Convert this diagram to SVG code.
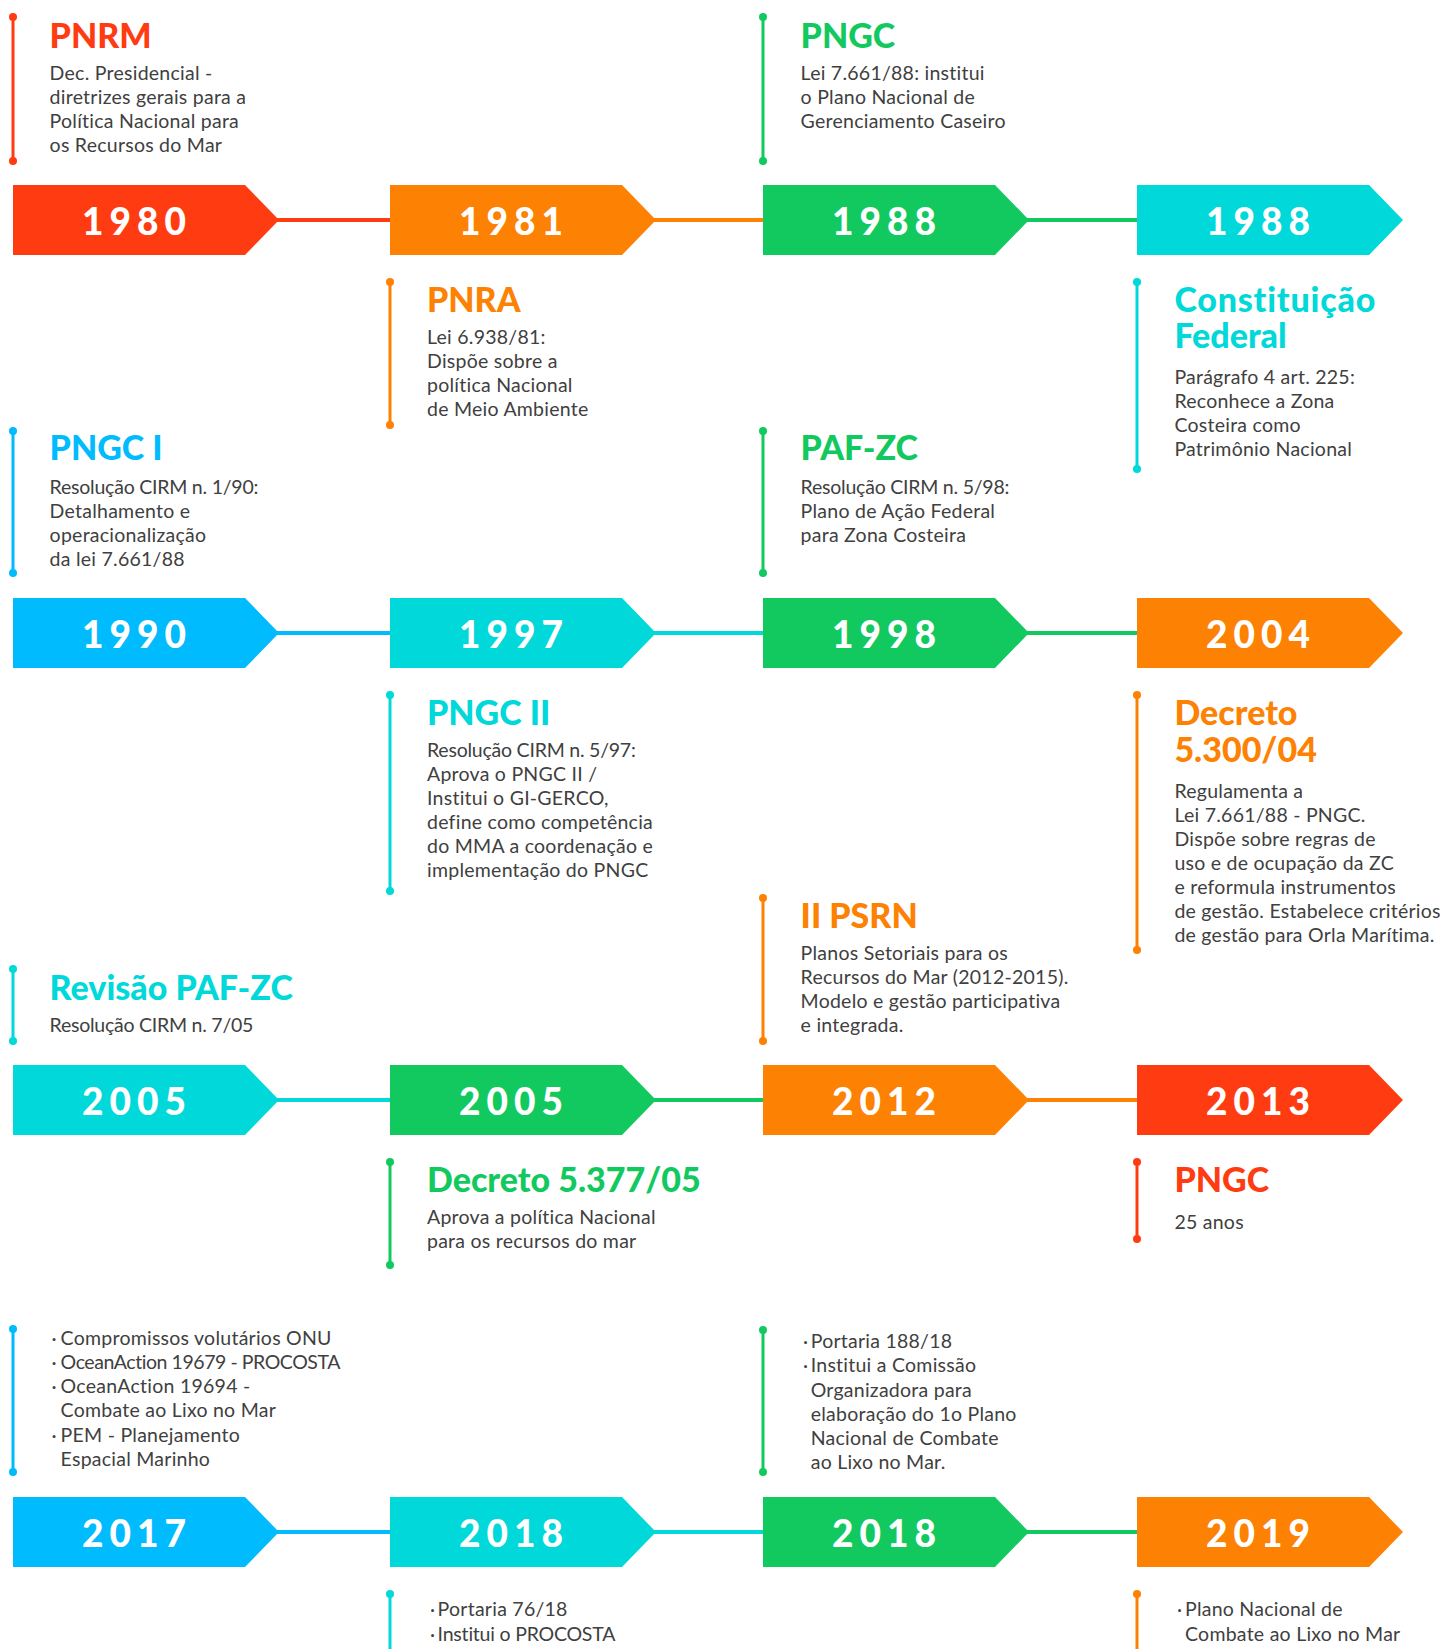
<svg xmlns="http://www.w3.org/2000/svg" width="1442" height="1649" viewBox="0 0 1442 1649">
<style>
.yr{font-family:Lato,'Open Sans',sans-serif;font-weight:900;font-size:37px;fill:#fff;letter-spacing:6px;text-anchor:middle}
.tt{font-family:Lato,'Open Sans',sans-serif;font-weight:900;font-size:34px}
.bd{font-family:Lato,'Open Sans',sans-serif;font-size:19.5px;letter-spacing:0.25px;fill:#404040}
.vl{stroke-width:3;fill:none}
.fr{fill:#ff3c11}.fo{fill:#fd8103}.fg{fill:#12c960}.fc{fill:#00d8d9}.fb{fill:#00bbfd}
.sr{stroke:#ff3c11}.so{stroke:#fd8103}.sg{stroke:#12c960}.sc{stroke:#00d8d9}.sb{stroke:#00bbfd}
.cn{stroke-width:4}
</style>
<rect width="1442" height="1649" fill="#fff"/>
<g id="connectors">
<line class="cn sr" x1="270" y1="220" x2="392" y2="220"/>
<line class="cn so" x1="647" y1="220" x2="765" y2="220"/>
<line class="cn sg" x1="1020" y1="220" x2="1139" y2="220"/>
<line class="cn sb" x1="270" y1="633" x2="392" y2="633"/>
<line class="cn sc" x1="647" y1="633" x2="765" y2="633"/>
<line class="cn sg" x1="1020" y1="633" x2="1139" y2="633"/>
<line class="cn sc" x1="270" y1="1100" x2="392" y2="1100"/>
<line class="cn sg" x1="647" y1="1100" x2="765" y2="1100"/>
<line class="cn so" x1="1020" y1="1100" x2="1139" y2="1100"/>
<line class="cn sb" x1="270" y1="1532" x2="392" y2="1532"/>
<line class="cn sc" x1="647" y1="1532" x2="765" y2="1532"/>
<line class="cn sg" x1="1020" y1="1532" x2="1139" y2="1532"/>
</g>
<g id="y1980"><polygon class="fr" points="13,185 245,185 279,220 245,255 13,255"/><text class="yr" x="137" y="235">1980</text></g>
<g id="y1981"><polygon class="fo" points="390,185 622,185 656,220 622,255 390,255"/><text class="yr" x="514" y="235">1981</text></g>
<g id="y1988a"><polygon class="fg" points="763,185 995,185 1029,220 995,255 763,255"/><text class="yr" x="887" y="235">1988</text></g>
<g id="y1988b"><polygon class="fc" points="1137,185 1369,185 1403,220 1369,255 1137,255"/><text class="yr" x="1261" y="235">1988</text></g>
<g id="y1990"><polygon class="fb" points="13,598 245,598 279,633 245,668 13,668"/><text class="yr" x="137" y="648">1990</text></g>
<g id="y1997"><polygon class="fc" points="390,598 622,598 656,633 622,668 390,668"/><text class="yr" x="514" y="648">1997</text></g>
<g id="y1998"><polygon class="fg" points="763,598 995,598 1029,633 995,668 763,668"/><text class="yr" x="887" y="648">1998</text></g>
<g id="y2004"><polygon class="fo" points="1137,598 1369,598 1403,633 1369,668 1137,668"/><text class="yr" x="1261" y="648">2004</text></g>
<g id="y2005a"><polygon class="fc" points="13,1065 245,1065 279,1100 245,1135 13,1135"/><text class="yr" x="137" y="1115">2005</text></g>
<g id="y2005b"><polygon class="fg" points="390,1065 622,1065 656,1100 622,1135 390,1135"/><text class="yr" x="514" y="1115">2005</text></g>
<g id="y2012"><polygon class="fo" points="763,1065 995,1065 1029,1100 995,1135 763,1135"/><text class="yr" x="887" y="1115">2012</text></g>
<g id="y2013"><polygon class="fr" points="1137,1065 1369,1065 1403,1100 1369,1135 1137,1135"/><text class="yr" x="1261" y="1115">2013</text></g>
<g id="y2017"><polygon class="fb" points="13,1497 245,1497 279,1532 245,1567 13,1567"/><text class="yr" x="137" y="1547">2017</text></g>
<g id="y2018a"><polygon class="fc" points="390,1497 622,1497 656,1532 622,1567 390,1567"/><text class="yr" x="514" y="1547">2018</text></g>
<g id="y2018b"><polygon class="fg" points="763,1497 995,1497 1029,1532 995,1567 763,1567"/><text class="yr" x="887" y="1547">2018</text></g>
<g id="y2019"><polygon class="fo" points="1137,1497 1369,1497 1403,1532 1369,1567 1137,1567"/><text class="yr" x="1261" y="1547">2019</text></g>

<g id="ev-pnrm"><line class="vl sr" x1="13" y1="17" x2="13" y2="161"/><circle class="fr" cx="13" cy="17" r="4"/><circle class="fr" cx="13" cy="161" r="4"/>
<text class="tt fr" x="49.6" y="48.3">PNRM</text>
<text class="bd"><tspan x="49.6" y="79.5">Dec. Presidencial -</tspan><tspan x="49.6" y="103.5">diretrizes gerais para a</tspan><tspan x="49.6" y="127.5">Política Nacional para</tspan><tspan x="49.6" y="151.5">os Recursos do Mar</tspan></text></g>

<g id="ev-pngc88"><line class="vl sg" x1="763" y1="17" x2="763" y2="161"/><circle class="fg" cx="763" cy="17" r="4"/><circle class="fg" cx="763" cy="161" r="4"/>
<text class="tt fg" x="800.6" y="48.3">PNGC</text>
<text class="bd"><tspan x="800.6" y="79.5">Lei 7.661/88: institui</tspan><tspan x="800.6" y="103.5">o Plano Nacional de</tspan><tspan x="800.6" y="127.5">Gerenciamento Caseiro</tspan></text></g>

<g id="ev-pnra"><line class="vl so" x1="390" y1="282" x2="390" y2="425"/><circle class="fo" cx="390" cy="282" r="4"/><circle class="fo" cx="390" cy="425" r="4"/>
<text class="tt fo" x="427" y="311.7">PNRA</text>
<text class="bd"><tspan x="427" y="343.5">Lei 6.938/81:</tspan><tspan x="427" y="367.5">Dispõe sobre a</tspan><tspan x="427" y="391.5">política Nacional</tspan><tspan x="427" y="415.5">de Meio Ambiente</tspan></text></g>

<g id="ev-cf"><line class="vl sc" x1="1137" y1="282" x2="1137" y2="469"/><circle class="fc" cx="1137" cy="282" r="4"/><circle class="fc" cx="1137" cy="469" r="4"/>
<text class="tt fc"><tspan x="1174.4" y="311.7" letter-spacing="0.8">Constituição</tspan><tspan x="1174.4" y="348.3">Federal</tspan></text>
<text class="bd"><tspan x="1174.4" y="384">Parágrafo 4 art. 225:</tspan><tspan x="1174.4" y="408">Reconhece a Zona</tspan><tspan x="1174.4" y="432">Costeira como</tspan><tspan x="1174.4" y="456">Patrimônio Nacional</tspan></text></g>

<g id="ev-pngc1"><line class="vl sb" x1="13" y1="431" x2="13" y2="573"/><circle class="fb" cx="13" cy="431" r="4"/><circle class="fb" cx="13" cy="573" r="4"/>
<text class="tt fb" x="49.6" y="460">PNGC I</text>
<text class="bd"><tspan x="49.6" y="493.5" textLength="209">Resolução CIRM n. 1/90:</tspan><tspan x="49.6" y="517.5">Detalhamento e</tspan><tspan x="49.6" y="541.5">operacionalização</tspan><tspan x="49.6" y="565.5">da lei 7.661/88</tspan></text></g>

<g id="ev-pafzc"><line class="vl sg" x1="763" y1="431" x2="763" y2="573"/><circle class="fg" cx="763" cy="431" r="4"/><circle class="fg" cx="763" cy="573" r="4"/>
<text class="tt fg" x="800.6" y="460">PAF-ZC</text>
<text class="bd"><tspan x="800.6" y="493.5" textLength="209">Resolução CIRM n. 5/98:</tspan><tspan x="800.6" y="517.5">Plano de Ação Federal</tspan><tspan x="800.6" y="541.5">para Zona Costeira</tspan></text></g>

<g id="ev-pngc2"><line class="vl sc" x1="390" y1="695" x2="390" y2="891"/><circle class="fc" cx="390" cy="695" r="4"/><circle class="fc" cx="390" cy="891" r="4"/>
<text class="tt fc" x="427" y="725">PNGC II</text>
<text class="bd"><tspan x="427" y="757" textLength="209">Resolução CIRM n. 5/97:</tspan><tspan x="427" y="781">Aprova o PNGC II /</tspan><tspan x="427" y="805">Institui o GI-GERCO,</tspan><tspan x="427" y="829">define como competência</tspan><tspan x="427" y="853">do MMA a coordenação e</tspan><tspan x="427" y="877">implementação do PNGC</tspan></text></g>

<g id="ev-dec5300"><line class="vl so" x1="1137" y1="695" x2="1137" y2="950"/><circle class="fo" cx="1137" cy="695" r="4"/><circle class="fo" cx="1137" cy="950" r="4"/>
<text class="tt fo"><tspan x="1174.4" y="725">Decreto</tspan><tspan x="1174.4" y="761.7">5.300/04</tspan></text>
<text class="bd"><tspan x="1174.4" y="797.5">Regulamenta a</tspan><tspan x="1174.4" y="821.5">Lei 7.661/88 - PNGC.</tspan><tspan x="1174.4" y="845.5">Dispõe sobre regras de</tspan><tspan x="1174.4" y="869.5">uso e de ocupação da ZC</tspan><tspan x="1174.4" y="893.5">e reformula instrumentos</tspan><tspan x="1174.4" y="917.5">de gestão. Estabelece critérios</tspan><tspan x="1174.4" y="941.5">de gestão para Orla Marítima.</tspan></text></g>

<g id="ev-psrn"><line class="vl so" x1="763" y1="898" x2="763" y2="1041"/><circle class="fo" cx="763" cy="898" r="4"/><circle class="fo" cx="763" cy="1041" r="4"/>
<text class="tt fo" x="800.6" y="928.3">II PSRN</text>
<text class="bd"><tspan x="800.6" y="960">Planos Setoriais para os</tspan><tspan x="800.6" y="984">Recursos do Mar (2012-2015).</tspan><tspan x="800.6" y="1008">Modelo e gestão participativa</tspan><tspan x="800.6" y="1032">e integrada.</tspan></text></g>

<g id="ev-revpafzc"><line class="vl sc" x1="13" y1="969" x2="13" y2="1041"/><circle class="fc" cx="13" cy="969" r="4"/><circle class="fc" cx="13" cy="1041" r="4"/>
<text class="tt fc" x="49.6" y="1000">Revisão PAF-ZC</text>
<text class="bd" x="49.6" y="1032" textLength="204">Resolução CIRM n. 7/05</text></g>

<g id="ev-dec5377"><line class="vl sg" x1="390" y1="1162" x2="390" y2="1265"/><circle class="fg" cx="390" cy="1162" r="4"/><circle class="fg" cx="390" cy="1265" r="4"/>
<text class="tt fg" x="427" y="1192.3">Decreto 5.377/05</text>
<text class="bd"><tspan x="427" y="1223.5">Aprova a política Nacional</tspan><tspan x="427" y="1247.5">para os recursos do mar</tspan></text></g>

<g id="ev-pngc25"><line class="vl sr" x1="1137" y1="1162" x2="1137" y2="1239"/><circle class="fr" cx="1137" cy="1162" r="4"/><circle class="fr" cx="1137" cy="1239" r="4"/>
<text class="tt fr" x="1174.4" y="1192.3">PNGC</text>
<text class="bd" x="1174.4" y="1228.5">25 anos</text></g>

<g id="ev-2017"><line class="vl sb" x1="13" y1="1329" x2="13" y2="1472"/><circle class="fb" cx="13" cy="1329" r="4"/><circle class="fb" cx="13" cy="1472" r="4"/>
<text class="bd"><tspan x="51.4" y="1345">·</tspan><tspan x="60.6" y="1345">Compromissos volutários ONU</tspan><tspan x="51.4" y="1369">·</tspan><tspan x="60.6" y="1369" textLength="280">OceanAction 19679 - PROCOSTA</tspan><tspan x="51.4" y="1393">·</tspan><tspan x="60.6" y="1393">OceanAction 19694 -</tspan><tspan x="60.6" y="1417">Combate ao Lixo no Mar</tspan><tspan x="51.4" y="1441.5">·</tspan><tspan x="60.6" y="1441.5">PEM - Planejamento</tspan><tspan x="60.6" y="1465.5">Espacial Marinho</tspan></text></g>

<g id="ev-2018b"><line class="vl sg" x1="763" y1="1330" x2="763" y2="1472"/><circle class="fg" cx="763" cy="1330" r="4"/><circle class="fg" cx="763" cy="1472" r="4"/>
<text class="bd"><tspan x="802.9" y="1348.3">·</tspan><tspan x="810.7" y="1348.3">Portaria 188/18</tspan><tspan x="802.9" y="1372.3">·</tspan><tspan x="810.7" y="1372.3">Institui a Comissão</tspan><tspan x="810.7" y="1396.5">Organizadora para</tspan><tspan x="810.7" y="1420.5">elaboração do 1o Plano</tspan><tspan x="810.7" y="1445">Nacional de Combate</tspan><tspan x="810.7" y="1469">ao Lixo no Mar.</tspan></text></g>

<g id="ev-2018a"><line class="vl sc" x1="390" y1="1594" x2="390" y2="1660"/><circle class="fc" cx="390" cy="1594" r="4"/>
<text class="bd"><tspan x="430" y="1616">·</tspan><tspan x="437.6" y="1616">Portaria 76/18</tspan><tspan x="430" y="1640.5">·</tspan><tspan x="437.6" y="1640.5" textLength="178">Institui o PROCOSTA</tspan></text></g>

<g id="ev-2019"><line class="vl so" x1="1137" y1="1594" x2="1137" y2="1660"/><circle class="fo" cx="1137" cy="1594" r="4"/>
<text class="bd"><tspan x="1177" y="1616">·</tspan><tspan x="1185" y="1616">Plano Nacional de</tspan><tspan x="1185" y="1640.5">Combate ao Lixo no Mar</tspan></text></g>
</svg>
